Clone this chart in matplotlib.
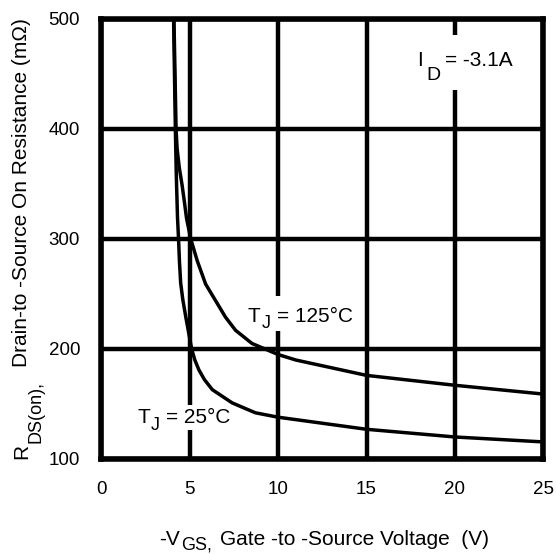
import matplotlib
matplotlib.use("Agg")
import matplotlib.pyplot as plt
from matplotlib.patches import Rectangle
from matplotlib.transforms import IdentityTransform

plt.rcParams["font.family"] = ["Liberation Sans", "DejaVu Sans"]

# Gate voltage (V) vs on-resistance (mOhm) at two junction temperatures
vgs_25c = [4.10, 4.15, 4.20, 4.25, 4.32, 4.38, 4.43, 4.50, 4.62, 4.79, 4.95, 5.12, 5.30, 5.53,
           5.85, 6.29, 7.41, 8.72, 10.0, 15.0, 20.0, 25.0]
rds_25c = [500, 450, 400, 360, 320, 300, 280, 260, 245, 229, 215, 200, 190, 181,
           172, 163, 151, 142, 138, 127, 120, 115.5]

vgs_125c = [4.12, 4.18, 4.24, 4.30, 4.42, 4.58, 4.70, 4.83, 5.07, 5.44, 5.91, 6.47, 7.03, 7.60,
            8.53, 10.0, 11.0, 15.0, 20.0, 25.0]
rds_125c = [500, 450, 400, 382, 365, 349, 335, 319, 300, 280, 259, 244, 229, 217,
            205, 195, 190, 176, 167, 159]

x_ticks = [0, 5, 10, 15, 20, 25]
y_ticks = [100, 200, 300, 400, 500]

W, H = 556, 555
fig = plt.figure(figsize=(W / 100, H / 100), dpi=100)
ax = fig.add_axes([0.1817, 0.173, 0.7958, 0.7928])

ax.set_xlim(0, 25)
ax.set_ylim(100, 500)
ax.set_xticks(x_ticks)
ax.set_yticks(y_ticks)
ax.tick_params(length=0, labelsize=13.5)
ax.tick_params(axis="x", pad=16)
ax.tick_params(axis="y", pad=15)

ax.grid(True, color="black", linewidth=3.2, zorder=1)
for s in ax.spines.values():
    s.set_linewidth(4.0)
    s.set_zorder(5)

ax.plot(vgs_25c, rds_25c, color="black", linewidth=2.5, zorder=3, solid_joinstyle="round")
ax.plot(vgs_125c, rds_125c, color="black", linewidth=2.5, zorder=3, solid_joinstyle="round")

renderer = fig.canvas.get_renderer()


def white_box(x0, y0, x1, y1):
    """White patch in pixel coords measured from the top-left corner."""
    fig.add_artist(Rectangle((x0, H - y1), x1 - x0, y1 - y0, transform=IdentityTransform(),
                             facecolor="white", edgecolor="none", zorder=8))


def label_pieces(pieces, x, y, rotation=0, center=True):
    """Lay out (text, size, drop_px, gap_px) pieces along a baseline.

    x, y are pixel coords from the top-left: for horizontal text (x, y) is the
    start (or centre) of the baseline; for vertical text x is the baseline and
    y the centre of the run.
    """
    texts = []
    for s, size, drop, gap in pieces:
        t = fig.text(0, 0, s, fontsize=size, transform=IdentityTransform(), rotation=rotation,
                     rotation_mode="anchor", ha="left", va="baseline", zorder=9)
        bb = t.get_window_extent(renderer)
        texts.append((t, drop, gap, bb.width if rotation == 0 else bb.height))
    total = sum(g + L for _, _, g, L in texts)
    if rotation == 0:
        cur = x - total / 2 if center else x
        for t, drop, gap, L in texts:
            cur += gap
            t.set_position((cur, H - y - drop))
            cur += L
    else:
        cur = (H - y) - total / 2
        for t, drop, gap, L in texts:
            cur += gap
            t.set_position((x + drop, cur))
            cur += L


white_box(246, 296, 357, 331)
white_box(134, 405, 233, 430)
white_box(411, 35, 523, 90)

label_pieces([("T", 15, 0, 0), ("J", 13, 7, 1), ("= 125°C", 15, 0, 6)], 248, 321.5, center=False)
label_pieces([("T", 15, 0, 0), ("J", 13, 7, 1), ("= 25°C", 15, 0, 6)], 137, 423, center=False)
label_pieces([("I", 15, 0, 0), ("D", 14, 14, 4), ("= -3.1A", 15, 0, 4)], 417, 66.5, center=False)

label_pieces([("-V", 15, 0, 0), ("GS,", 13, 5, 1), ("Gate -to -Source Voltage  (V)", 15, 0, 8)], 324, 545)
label_pieces([("R", 15, 0, 0), ("DS(on),", 13, 13, 1), ("Drain-to -Source On Resistance (mΩ)", 15, 0, 14)],
             27, 238.5, rotation=90)

fig.savefig("out.png", dpi=100, facecolor="white")
